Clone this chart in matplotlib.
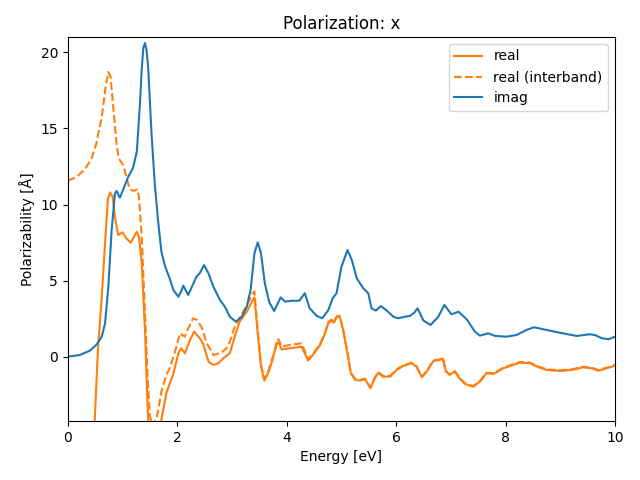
import matplotlib
matplotlib.use("Agg")
import matplotlib.pyplot as plt

# imaginary part
e_imag = [0.0, 0.22, 0.40, 0.52, 0.62, 0.68, 0.74, 0.80, 0.86, 0.89, 0.95, 1.02, 1.10, 1.19,
          1.26, 1.32, 1.35, 1.38, 1.41, 1.44, 1.47, 1.53, 1.59, 1.65, 1.71, 1.77, 1.86, 1.93,
          2.02, 2.07, 2.11, 2.20, 2.35, 2.41, 2.49, 2.57, 2.66, 2.78, 2.87, 2.96, 3.07, 3.18,
          3.27, 3.34, 3.41, 3.47, 3.53, 3.60, 3.68, 3.77, 3.89, 3.97, 4.09, 4.23, 4.33, 4.42,
          4.55, 4.65, 4.76, 4.84, 4.91, 5.00, 5.11, 5.19, 5.28, 5.40, 5.49, 5.55, 5.63, 5.72,
          5.83, 5.95, 6.04, 6.16, 6.25, 6.33, 6.39, 6.50, 6.63, 6.77, 6.88, 7.01, 7.14, 7.29,
          7.44, 7.53, 7.68, 7.81, 8.02, 8.20, 8.38, 8.52, 8.75, 8.99, 9.30, 9.54, 9.63, 9.76,
          9.88, 10.0]
y_imag = [0.02, 0.13, 0.41, 0.79, 1.33, 2.2, 4.6, 8.3, 10.7, 10.9, 10.45, 11.06, 11.8, 12.4,
          13.46, 16.74, 18.9, 20.3, 20.6, 20.1, 18.9, 14.6, 11.3, 8.9, 6.9, 6.03, 5.16, 4.39,
          3.95, 4.3, 4.68, 4.07, 5.27, 5.49, 6.03, 5.49, 4.61, 3.74, 3.3, 2.64, 2.32, 2.64,
          3.3, 4.39, 6.8, 7.52, 6.8, 4.83, 3.6, 3.02, 3.91, 3.63, 3.69, 3.69, 4.18, 3.19,
          2.69, 2.54, 3.08, 3.85, 4.18, 5.92, 7.02, 6.36, 5.16, 4.5, 4.18, 3.19, 3.04, 3.34,
          3.04, 2.64, 2.54, 2.64, 2.69, 2.9, 3.19, 2.38, 2.1, 2.64, 3.41, 2.8, 2.97, 2.47,
          1.66, 1.4, 1.55, 1.38, 1.33, 1.44, 1.77, 1.95, 1.77, 1.59, 1.38, 1.49, 1.44, 1.23,
          1.16, 1.33]

# real part
e_real = [0.35, 0.42, 0.46, 0.49, 0.55, 0.62, 0.68, 0.73, 0.77, 0.82, 0.86, 0.92, 1.00, 1.07,
          1.15, 1.26, 1.30, 1.35, 1.41, 1.45, 1.50, 1.56, 1.62, 1.68, 1.71, 1.80, 1.93, 2.02,
          2.07, 2.14, 2.23, 2.31, 2.41, 2.47, 2.57, 2.66, 2.75, 2.84, 2.96, 3.05, 3.14, 3.27,
          3.38, 3.41, 3.47, 3.53, 3.59, 3.66, 3.74, 3.81, 3.85, 3.91, 4.06, 4.27, 4.33, 4.39,
          4.48, 4.61, 4.70, 4.76, 4.82, 4.86, 4.92, 4.97, 5.03, 5.11, 5.17, 5.25, 5.34, 5.43,
          5.53, 5.61, 5.67, 5.76, 5.89, 6.01, 6.13, 6.28, 6.37, 6.47, 6.56, 6.68, 6.80, 6.85,
          6.91, 6.98, 7.07, 7.17, 7.26, 7.35, 7.41, 7.53, 7.65, 7.78, 7.96, 8.14, 8.26, 8.45,
          8.57, 8.75, 8.99, 9.21, 9.42, 9.57, 9.69, 9.85, 10.0]
y_real = [-30.0, -10.0, -6.5, -4.24, 0.46, 3.95, 7.47, 10.3, 10.8, 10.5, 9.2, 8.0, 8.18, 7.78,
          7.5, 8.22, 7.89, 6.14, 1.77, -2.6, -6.5, -8.5, -7.0, -5.0, -4.1, -2.38, -1.07, 0.24,
          0.57, 0.24, 1.11, 1.66, 1.23, 0.9, -0.31, -0.52, -0.41, -0.09, 0.24, 1.33, 2.32, 2.97,
          3.74, 3.9, 1.55, -0.63, -1.55, -1.07, -0.2, 0.9, 0.95, 0.5, 0.57, 0.68, 0.24, -0.24,
          0.13, 0.79, 1.55, 2.21, 2.38, 2.25, 2.64, 2.64, 1.77, 0.24, -1.07, -1.5, -1.55, -1.46,
          -2.05, -1.4, -1.03, -1.29, -1.29, -0.85, -0.59, -0.41, -0.63, -1.33, -0.96, -0.26, -0.2, -0.09,
          -0.96, -1.18, -0.96, -1.46, -1.77, -1.9, -1.95, -1.62, -1.07, -1.11, -0.74, -0.52, -0.37, -0.41,
          -0.63, -0.85, -0.92, -0.85, -0.68, -0.74, -0.9, -0.74, -0.57]

# real part, interband only
e_inter = [0.0, 0.16, 0.31, 0.43, 0.52, 0.62, 0.69, 0.74, 0.78, 0.83, 0.89, 0.93, 1.01, 1.07,
           1.13, 1.21, 1.27, 1.30, 1.35, 1.41, 1.46, 1.50, 1.55, 1.63, 1.71, 1.80, 1.86, 1.96,
           2.05, 2.14, 2.20, 2.29, 2.36, 2.44, 2.54, 2.66, 2.81, 2.93, 3.05, 3.24, 3.38, 3.41,
           3.47, 3.53, 3.59, 3.66, 3.74, 3.85, 3.91, 4.06, 4.27, 4.33, 4.39, 4.48, 4.61, 4.70,
           4.76, 4.82, 4.86, 4.92, 4.97, 5.03, 5.11, 5.17, 5.25, 5.34, 5.43, 5.53, 5.61, 5.67,
           5.76, 5.89, 6.01, 6.13, 6.28, 6.37, 6.47, 6.56, 6.68, 6.80, 6.85, 6.91, 6.98, 7.07,
           7.17, 7.26, 7.35, 7.41, 7.53, 7.65, 7.78, 7.96, 8.14, 8.26, 8.45, 8.57, 8.75, 8.99,
           9.21, 9.42, 9.57, 9.69, 9.85, 10.0]
y_inter = [11.56, 11.82, 12.3, 13.0, 14.0, 15.76, 17.7, 18.7, 18.4, 16.4, 14.0, 13.03, 12.6, 11.82,
           11.0, 10.9, 11.0, 10.5, 7.9, 2.87, -1.5, -3.9, -4.5, -3.9, -2.27, -1.18, -0.74, 0.35,
           1.55, 1.33, 1.88, 2.54, 2.43, 1.99, 0.9, 0.13, 0.28, 0.68, 1.99, 3.19, 4.18, 4.3,
           1.75, -0.5, -1.45, -0.95, -0.05, 1.16, 0.68, 0.79, 0.9, 0.4, -0.15, 0.2, 0.85, 1.6,
           2.3, 2.45, 2.3, 2.68, 2.68, 1.82, 0.3, -1.0, -1.45, -1.5, -1.42, -2.0, -1.36, -0.99,
           -1.25, -1.25, -0.81, -0.55, -0.37, -0.59, -1.29, -0.92, -0.22, -0.16, -0.05, -0.92, -1.14, -0.92,
           -1.42, -1.73, -1.86, -1.91, -1.58, -1.03, -1.07, -0.7, -0.48, -0.33, -0.37, -0.59, -0.81, -0.88,
           -0.81, -0.64, -0.7, -0.86, -0.7, -0.53]

fig, ax = plt.subplots(figsize=(6.4, 4.8), dpi=100)
ax.plot(e_real, y_real, color="C1", label="real")
ax.plot(e_inter, y_inter, color="C1", linestyle="--", label="real (interband)")
ax.plot(e_imag, y_imag, color="C0", label="imag")

ax.set_xlim(0, 10)
ax.set_ylim(-4.2, 21)
ax.set_xlabel("Energy [eV]")
ax.set_ylabel("Polarizability [Å]")
ax.set_title("Polarization: x")
ax.legend(loc="upper right")
fig.subplots_adjust(left=0.106, right=0.961, top=0.923, bottom=0.123)
plt.savefig("out.png")
